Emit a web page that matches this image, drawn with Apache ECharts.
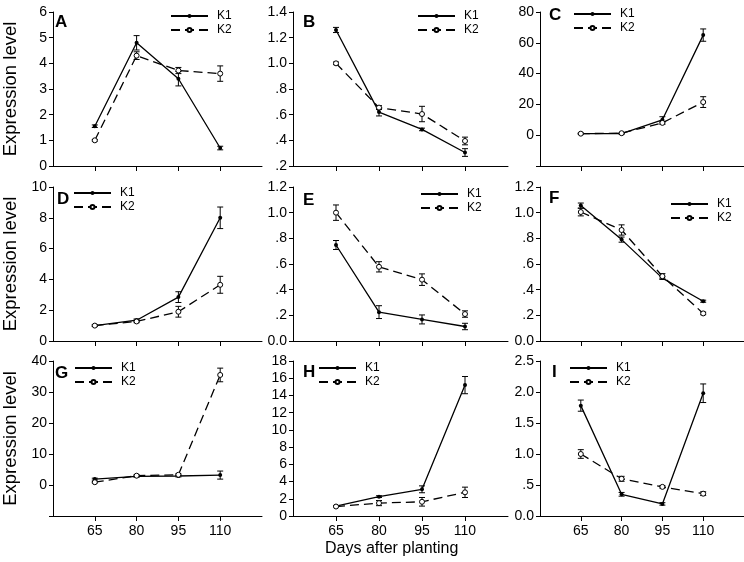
<!DOCTYPE html>
<html><head><meta charset="utf-8">
<script src="https://cdn.jsdelivr.net/npm/echarts@6/dist/echarts.min.js"></script>
<style>html,body{margin:0;padding:0;background:#fff}#c{width:744px;height:562px}</style>
</head><body><div id="c"></div>
<script>
const days = [65, 80, 95, 110];
const panelLetters = ['A','B','C','D','E','F','G','H','I'];
const seriesNames = ['K1','K2'];
const yAxisTitle = 'Expression level';
const xAxisTitle = 'Days after planting';

const aK1 = [1.55, 4.8, 3.4, 0.7];      const aK1Err = [0.05, 0.28, 0.28, 0.07];
const aK2 = [1.0, 4.3, 3.72, 3.6];      const aK2Err = [0.03, 0.15, 0.12, 0.3];
const bK1 = [1.26, 0.62, 0.485, 0.305]; const bK1Err = [0.02, 0.03, 0.01, 0.03];
const bK2 = [1.0, 0.655, 0.605, 0.395]; const bK2Err = [0.01, 0.015, 0.06, 0.03];
const cK1 = [1.0, 1.0, 10, 65];         const cK1Err = [0.3, 0.3, 2, 4];
const cK2 = [1.0, 1.3, 8, 21.5];        const cK2Err = [0.3, 0.3, 1, 3.5];
const dK1 = [1.0, 1.35, 2.85, 8.0];     const dK1Err = [0.05, 0.08, 0.35, 0.7];
const dK2 = [1.0, 1.27, 1.9, 3.65];     const dK2Err = [0.05, 0.08, 0.35, 0.55];
const eK1 = [0.748, 0.225, 0.168, 0.113]; const eK1Err = [0.035, 0.05, 0.035, 0.025];
const eK2 = [1.0, 0.578, 0.478, 0.21];  const eK2Err = [0.06, 0.04, 0.045, 0.025];
const fK1 = [1.055, 0.79, 0.49, 0.31];  const fK1Err = [0.02, 0.02, 0.01, 0.008];
const fK2 = [1.005, 0.865, 0.505, 0.215]; const fK2Err = [0.03, 0.04, 0.02, 0.01];
const gK1 = [1.9, 2.8, 2.9, 3.2];       const gK1Err = [0.3, 0.3, 0.3, 1.3];
const gK2 = [0.9, 3.0, 3.3, 35.5];      const gK2Err = [0.2, 0.3, 0.3, 2.2];
const hK1 = [1.15, 2.25, 3.1, 15.2];    const hK1Err = [0.05, 0.1, 0.4, 1.0];
const hK2 = [1.1, 1.5, 1.65, 2.75];     const hK2Err = [0.05, 0.3, 0.5, 0.6];
const iK1 = [1.78, 0.35, 0.195, 1.98];  const iK1Err = [0.09, 0.03, 0.02, 0.15];
const iK2 = [1.0, 0.6, 0.47, 0.36];     const iK2Err = [0.07, 0.04, 0.02, 0.03];

// y-axis ranges [min, max, interval]
const yRanges = [
  [0, 6, 1], [0.2, 1.4, 0.2], [-20, 80, 20],
  [0, 10, 2], [0, 1.2, 0.2], [0, 1.2, 0.2],
  [-10, 40, 10], [0, 18, 2], [0, 2.5, 0.5]
];
const decimalAxes = [false, true, false, false, true, true, false, false, true];

const K1sets = [[aK1,aK1Err],[bK1,bK1Err],[cK1,cK1Err],[dK1,dK1Err],[eK1,eK1Err],[fK1,fK1Err],[gK1,gK1Err],[hK1,hK1Err],[iK1,iK1Err]];
const K2sets = [[aK2,aK2Err],[bK2,bK2Err],[cK2,cK2Err],[dK2,dK2Err],[eK2,eK2Err],[fK2,fK2Err],[gK2,gK2Err],[hK2,hK2Err],[iK2,iK2Err]];

const FONT = '"Liberation Sans", Arial, sans-serif';
const colLeft = [49, 293, 540];
const colWidth = [213, 215, 213];
const rowTop = [12, 187, 361];
const rowHeight = [154, 154, 155];
const letterPos = [[55,23],[303,23],[549,16],[57,200],[303,201],[549,199],[55,374],[303,373],[552,373]];
const legendPos = [[170,9],[417,9],[573,7],[73,186],[420,187],[670,197],[74,361],[318,361],[569,361]];

const grids = [], xAxes = [], yAxes = [], series = [], legends = [], graphics = [];

function fmtDec(v) {
  const r = Math.round(v * 100) / 100;
  if (Math.abs(r) < 1e-9) return '0.0';
  if (r < 1) return r.toFixed(1).replace(/^0/, '');
  return r.toFixed(1);
}

function errRender(params, api) {
  const x = api.value(0), y = api.value(1), e = api.value(2);
  const top = api.coord([x, y + e]);
  const bot = api.coord([x, y - e]);
  const w = 3;
  const st = { stroke: '#000', lineWidth: 1 };
  return { type: 'group', children: [
    { type: 'line', shape: { x1: top[0], y1: top[1], x2: bot[0], y2: bot[1] }, style: st },
    { type: 'line', shape: { x1: top[0]-w, y1: top[1], x2: top[0]+w, y2: top[1] }, style: st },
    { type: 'line', shape: { x1: bot[0]-w, y1: bot[1], x2: bot[0]+w, y2: bot[1] }, style: st }
  ]};
}

for (let p = 0; p < 9; p++) {
  const r = Math.floor(p / 3), c = p % 3;
  grids.push({ left: colLeft[c], top: rowTop[r], width: colWidth[c], height: rowHeight[r], containLabel: false });
  xAxes.push({
    type: 'value', gridIndex: p, min: 50, max: 125, interval: 15,
    axisLine: { onZero: false, lineStyle: { color: '#000', width: 1 } },
    axisTick: { show: true, inside: false, length: 5, customValues: days, lineStyle: { color: '#000' } },
    axisLabel: { show: r === 2, customValues: days, margin: 8, color: '#000', fontSize: 14, fontFamily: FONT,
      formatter: v => (days.indexOf(v) >= 0 ? String(v) : '') },
    splitLine: { show: false }
  });
  const yr = yRanges[p];
  const y = {
    type: 'value', gridIndex: p, min: yr[0], max: yr[1], interval: yr[2],
    axisLine: { show: true, lineStyle: { color: '#000', width: 1 } },
    axisTick: { show: true, length: 4, lineStyle: { color: '#000' } },
    axisLabel: { margin: 6, color: '#000', fontSize: 14, fontFamily: FONT,
      formatter: v => (v < 0 ? '' : (decimalAxes[p] ? fmtDec(v) : String(Math.round(v)))) },
    splitLine: { show: false }
  };
  if (c === 0) {
    y.name = yAxisTitle; y.nameLocation = 'middle'; y.nameGap = 33; y.nameRotate = 90;
    y.nameTextStyle = { fontSize: 18.5, fontFamily: FONT, color: '#000' };
  }
  yAxes.push(y);

  const sets = [K1sets[p], K2sets[p]];
  sets.forEach((s, k) => {
    const vals = s[0], errs = s[1];
    series.push({
      type: 'custom', name: seriesNames[k] + ' err', xAxisIndex: p, yAxisIndex: p,
      renderItem: errRender, z: 2, silent: true,
      data: days.map((d, i) => [d, vals[i], errs[i]])
    });
    series.push({
      type: 'line', name: seriesNames[k], xAxisIndex: p, yAxisIndex: p, z: 3,
      data: days.map((d, i) => [d, vals[i]]),
      symbol: 'circle', symbolSize: k === 0 ? 4 : 5, showSymbol: true,
      lineStyle: { color: '#000', width: 1.3, type: k === 0 ? 'solid' : [9, 5] },
      itemStyle: k === 0 ? { color: '#000', borderColor: '#000', borderWidth: 0 } : { color: '#fff', borderColor: '#000', borderWidth: 1 }
    });
  });

  const lp = legendPos[p];
  legends.push({
    data: seriesNames, left: lp[0], top: lp[1] + 1, orient: 'vertical', padding: 0,
    itemWidth: 37, itemHeight: 5, itemGap: 2, selectedMode: false,
    textStyle: { fontSize: 12, fontFamily: FONT, color: '#000', padding: [0, 0, 0, 4] }
  });
  graphics.push({
    type: 'text', left: letterPos[p][0], top: letterPos[p][1] - 9,
    style: { text: panelLetters[p], fontSize: 17, fontWeight: 'bold', fontFamily: FONT, fill: '#000' }
  });
}

graphics.push({
  type: 'text', left: 325, top: 541, style: { text: xAxisTitle, fontSize: 16, fontFamily: FONT, fill: '#000' }
});

const chart = echarts.init(document.getElementById('c'), null, { renderer: 'canvas' });
chart.setOption({
  animation: false, backgroundColor: '#fff',
  grid: grids, xAxis: xAxes, yAxis: yAxes, series: series, legend: legends, graphic: graphics
});
</script></body></html>
